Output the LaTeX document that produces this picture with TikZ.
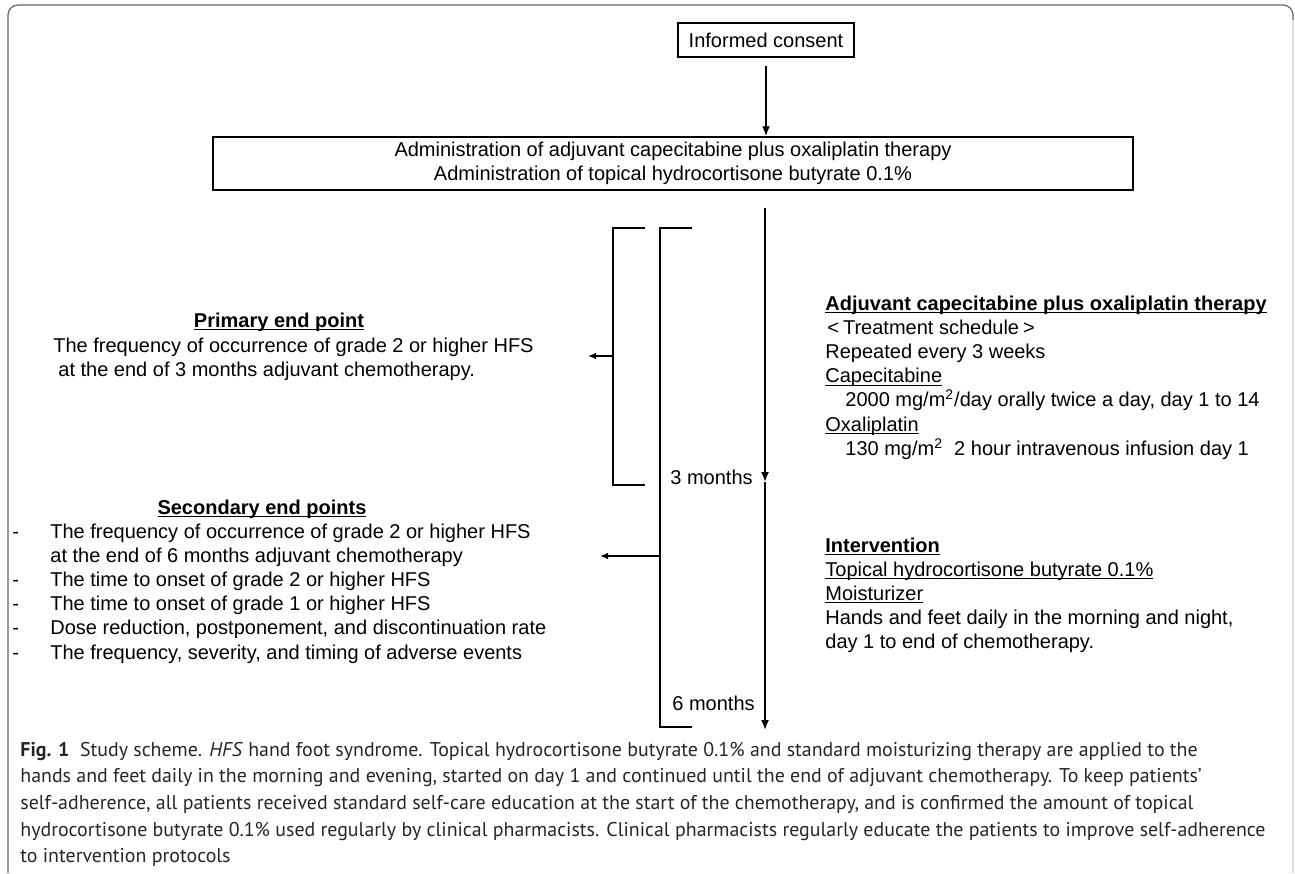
\documentclass[tikz,border=0pt]{standalone}
\usepackage{fontspec}
\setmainfont{Liberation Sans}
\newfontfamily\capfont{PT Sans}
\usetikzlibrary{arrows.meta,positioning}
\newcommand{\undl}[1]{\setbox0\hbox{#1}\rlap{\rule[-1.5pt]{\wd0}{0.5pt}}\box0}
\tikzset{
  schembox/.style={draw=black, line width=0.75pt, align=center, inner sep=0pt},
  schemline/.style={-{Latex[length=5pt,width=4pt]}, line width=0.9pt},
  schemthin/.style={-{Latex[length=4pt,width=3.4pt]}, line width=0.9pt},
  bracketline/.style={line width=0.9pt},
  schemtext/.style={inner sep=0pt, font=\fontsize{10}{12.1}\selectfont},
  captext/.style={inner sep=0pt, text=black!85, font=\capfont\fontsize{9.95}{13.35}\selectfont}
}

\begin{document}
\begin{tikzpicture}[x=0.5pt,y=-0.5pt]
  \useasboundingbox (0,0) rectangle (1295,873);
  % frame
  \draw[gray!80!black, line width=0.6pt, rounded corners=5pt] (8,873) -- (8,5) -- (1293,5) -- (1293,22);
  \draw[gray!25, line width=0.6pt] (1293,20) -- (1293,873);

  % boxes
  \node[schembox, minimum width=88pt, minimum height=17pt, font=\fontsize{10}{12}\selectfont] (consent) at (766,40) {Informed consent};
  \node[schembox, minimum width=460pt, minimum height=26.5pt, font=\fontsize{10}{12}\selectfont] (admin) at (673,163.5)
    {Administration of adjuvant capecitabine plus oxaliplatin therapy\\Administration of topical hydrocortisone butyrate 0.1\%};
  \draw[schemline, shorten <=4pt] (consent.south) -- (consent.south |- admin.north);

  % time line
  \coordinate (tstart) at (765,208);
  \coordinate (tthree) at (765,482);
  \coordinate (tsix) at (765,730);
  \draw[schemline] (tstart) -- (tthree);
  \draw[schemline] (tthree) -- (tsix);

  % brackets
  \draw[bracketline] (645,228) -- (613,228) -- (613,485) -- (645,485);
  \draw[bracketline] (692,228) -- (660,228) -- (660,727) -- (692,727);
  \coordinate (primid) at (613,356);
  \coordinate (priend) at (588,356);
  \coordinate (secmid) at (660,556);
  \coordinate (secend) at (600,556);
  \draw[schemthin] (primid) -- (priend);
  \draw[schemthin] (secmid) -- (secend);

  \node[schemtext, anchor=base west] (m3) at (670,484) {3 months};
  \node[schemtext, anchor=base west] (m6) at (672,710) {6 months};

  % end points
  \node[schemtext, anchor=base] (pritit) at (279,327) {\undl{\textbf{Primary end point}}};
  \node[schemtext, anchor=base west] (pritxt) at (53,352) {\begin{tabular}[t]{@{}l@{}}
    The frequency of occurrence of grade 2 or higher HFS\\
    \hspace*{2.5pt}at the end of 3 months adjuvant chemotherapy.
  \end{tabular}};

  \node[schemtext, anchor=base] (sectit) at (262,514) {\undl{\textbf{Secondary end points}}};
  \node[schemtext, anchor=base west] (sectxt) at (12,538) {\begin{tabular}[t]{@{}p{19pt}@{}l@{}}
    - & The frequency of occurrence of grade 2 or higher HFS\\
      & at the end of 6 months adjuvant chemotherapy\\
    - & The time to onset of grade 2 or higher HFS\\
    - & The time to onset of grade 1 or higher HFS\\
    - & Dose reduction, postponement, and discontinuation rate\\
    - & The frequency, severity, and timing of adverse events
  \end{tabular}};

  % regimen and intervention
  \node[schemtext, anchor=base west] (regimen) at (825,310) {\begin{tabular}[t]{@{}l@{}}
    \undl{\textbf{Adjuvant capecitabine plus oxaliplatin therapy}}\\
    \hspace*{1pt}<\hspace*{2pt}Treatment schedule\hspace*{2pt}>\\
    Repeated every 3 weeks\\
    \undl{Capecitabine}\\
    \hspace*{10pt}2000 mg/m\textsuperscript{2}/day orally twice a day, day 1 to 14\\
    \undl{Oxaliplatin}\\
    \hspace*{10pt}130 mg/m\textsuperscript{2}\ \ 2 hour intravenous infusion day 1
  \end{tabular}};

  \node[schemtext, anchor=base west] (interv) at (825,552) {\begin{tabular}[t]{@{}l@{}}
    \undl{\textbf{Intervention}}\\
    \undl{Topical hydrocortisone butyrate 0.1\%}\\
    \undl{Moisturizer}\\
    Hands and feet daily in the morning and night,\\
    day 1 to end of chemotherapy.
  \end{tabular}};

  % caption
  \node[captext, anchor=base west] (caption) at (20,756) {\begin{tabular}[t]{@{}l@{}}
    \textbf{Fig. 1}\ \ Study scheme. \textit{HFS} hand foot syndrome. Topical hydrocortisone butyrate 0.1\% and standard moisturizing therapy are applied to the\\
    hands and feet daily in the morning and evening, started on day 1 and continued until the end of adjuvant chemotherapy. To keep patients’\\
    self-adherence, all patients received standard self-care education at the start of the chemotherapy, and is confirmed the amount of topical\\
    hydrocortisone butyrate 0.1\% used regularly by clinical pharmacists. Clinical pharmacists regularly educate the patients to improve self-adherence\\
    to intervention protocols
  \end{tabular}};
\end{tikzpicture}
\end{document}
